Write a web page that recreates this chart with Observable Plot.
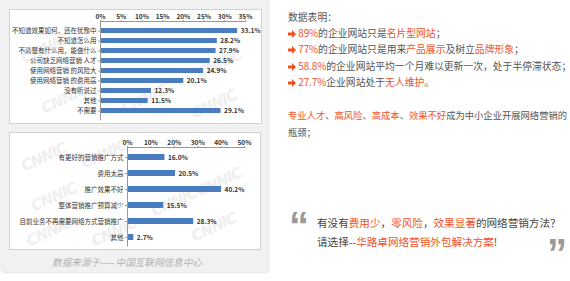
<!DOCTYPE html>
<html><head><meta charset="utf-8">
<script src="https://cdn.jsdelivr.net/npm/d3@7"></script>
<script src="https://cdn.jsdelivr.net/npm/@observablehq/plot@0.6"></script>
<style>
body{margin:0;width:570px;height:281px;background:#fff;position:relative;overflow:hidden;font-family:"Noto Sans CJK SC",sans-serif;}
#panel{position:absolute;left:0;top:0;width:268px;height:272px;background:#f1f1f1;border-radius:0 0 4px 4px;box-shadow:1px 1px 2px #e2e2e2;}
.box{position:absolute;background:#fff;border:1px solid #d2d2d2;overflow:hidden;}
#box1{left:9px;top:9px;width:251px;height:113px;}
#box2{left:9px;top:132px;width:250px;height:116px;}
.box svg{position:absolute;left:0;top:0;}
.wm{position:absolute;color:#efefef;font:italic bold 15px "DejaVu Sans",sans-serif;transform:rotate(-25deg);white-space:nowrap;letter-spacing:-1px;}
#src{position:absolute;left:0;width:254px;top:255px;text-align:center;font-size:9.6px;font-style:italic;color:#b0b0b0;line-height:14px;}
.ln{position:absolute;left:288px;font-size:9.8px;line-height:16px;color:#555;white-space:nowrap;}
.o{color:#f0521f;}
.ar{display:inline-block;width:8px;vertical-align:middle;}
.q{position:absolute;font:bold 40px "Liberation Sans",sans-serif;color:#9a9a9a;line-height:40px;}
.qt{position:absolute;left:317px;font-size:10.6px;line-height:18px;color:#444;white-space:nowrap;}
</style></head>
<body>
<div id="panel"></div>
<div class="box" id="box1">
  <span class="wm" style="left:10px;top:30px">CNNIC</span>
  <span class="wm" style="left:30px;top:80px">CNNIC</span>
  <span class="wm" style="left:110px;top:80px">CNNIC</span>
  <span class="wm" style="left:185px;top:45px">CNNIC</span>
  <span class="wm" style="left:180px;top:85px">CNNIC</span>
</div>
<div class="box" id="box2">
  <span class="wm" style="left:10px;top:15px">CNNIC</span>
  <span class="wm" style="left:70px;top:12px">CNNIC</span>
  <span class="wm" style="left:20px;top:55px">CNNIC</span>
  <span class="wm" style="left:15px;top:90px">CNNIC</span>
  <span class="wm" style="left:80px;top:90px">CNNIC</span>
  <span class="wm" style="left:140px;top:60px">CNNIC</span>
  <span class="wm" style="left:185px;top:40px">CNNIC</span>
  <span class="wm" style="left:180px;top:85px">CNNIC</span>
</div>
<div id="src">数据来源于---- 中国互联网信息中心</div>

<div class="ln" style="top:9px">数据表明：</div>
<div class="ln" style="top:25px"><svg class="ar" width="8" height="8" viewBox="0 0 8 8"><path d="M0 2.5H4V0L8 4L4 8V5.5H0Z" fill="#f0521f"/></svg> <span class="o">89%</span>的企业网站只是<span class="o">名片型网站</span>；</div>
<div class="ln" style="top:41px"><svg class="ar" width="8" height="8" viewBox="0 0 8 8"><path d="M0 2.5H4V0L8 4L4 8V5.5H0Z" fill="#f0521f"/></svg> <span class="o">77%</span>的企业网站只是用来<span class="o">产品展示</span>及树立<span class="o">品牌形象</span>；</div>
<div class="ln" style="top:58px"><svg class="ar" width="8" height="8" viewBox="0 0 8 8"><path d="M0 2.5H4V0L8 4L4 8V5.5H0Z" fill="#f0521f"/></svg> <span class="o">58.8%</span>的企业网站平均一个月难以更新一次，处于半停滞状态；</div>
<div class="ln" style="top:74px"><svg class="ar" width="8" height="8" viewBox="0 0 8 8"><path d="M0 2.5H4V0L8 4L4 8V5.5H0Z" fill="#f0521f"/></svg> <span class="o">27.7%</span>企业网站处于<span class="o">无人维护</span>。</div>
<div class="ln" style="top:107px;font-size:9.3px"><span class="o">专业人才</span>、<span class="o">高风险</span>、<span class="o">高成本</span>、<span class="o">效果不好</span>成为中小企业开展网络营销的</div>
<div class="ln" style="top:124px;font-size:9.3px">瓶颈；</div>

<div class="q" style="left:289px;top:206px">“</div>
<div class="q" style="left:547px;top:233px">”</div>
<div class="qt" style="top:214px">有没有<span class="o">费用少</span>，<span class="o">零风险</span>，<span class="o">效果显著</span>的网络营销方法？</div>
<div class="qt" style="top:233px">请选择--<span class="o">华路卓网络营销外包解决方案</span>!</div>

<script>
const cats1 = ["不知道效果如何，还在犹豫中","不知道怎么用","不清楚有什么用，能做什么","公司缺乏网络营销 人才","使用网络营销 的风险大","使用网络营销 的费用高","没有听说过","其他","不需要"];
const vals1 = [33.1,28.2,27.9,26.5,24.9,20.1,12.3,11.5,29.1];
const ticks1 = [0,5,10,15,20,25,30,35];

const cats2 = ["有更好的营销推广方式","费用太高","推广效果不好","整体营销推广预算减少","目前业务不再需要网络方式营销推广","其他"];
const vals2 = [16.0,20.5,40.2,15.5,28.3,2.7];
const ticks2 = [0,10,20,30,40,50];

function chart(cats, vals, ticks, o){
  const data = cats.map((c,i)=>({c, v: vals[i]}));
  return Plot.plot({
    width:o.w, height:o.h,
    marginLeft:o.ml, marginRight:o.mr, marginTop:o.mt, marginBottom:o.mb,
    style:{fontFamily:'"Noto Sans CJK SC",sans-serif', fontSize:"6.5px", color:"#333", background:"transparent", overflow:"visible"},
    x:{domain:[0, ticks[ticks.length-1]]},
    y:{domain:cats, paddingInner:o.pi, paddingOuter:o.po},
    marks:[
      Plot.barX(data,{x:"v", y:"c", fill:"#4a7cc0"}),
      Plot.frame({anchor:"top", stroke:"#999"}),
      Plot.ruleX([0],{stroke:"#999"}),
      Plot.axisX({anchor:"top", ticks, tickFormat:d=>d+"%", tickSize:2, tickPadding:1, label:null, fontWeight:"bold", stroke:"#999"}),
      Plot.axisY({tickSize:2, tickPadding:2, label:null, stroke:"#999"}),
      Plot.text(data,{x:"v", y:"c", text:d=>d.v.toFixed(1)+"%", dx:3, textAnchor:"start", fontWeight:"bold", fill:"#333"})
    ]
  });
}
document.getElementById("box1").appendChild(chart(cats1, vals1, ticks1, {w:251,h:113,ml:90,mr:16,mt:11,mb:2.6,pi:0.55,po:0.745}));
document.getElementById("box2").appendChild(chart(cats2, vals2, ticks2, {w:250,h:116,ml:117,mr:16,mt:14,mb:2.6,pi:0.6,po:0.33}));
</script>
</body></html>
